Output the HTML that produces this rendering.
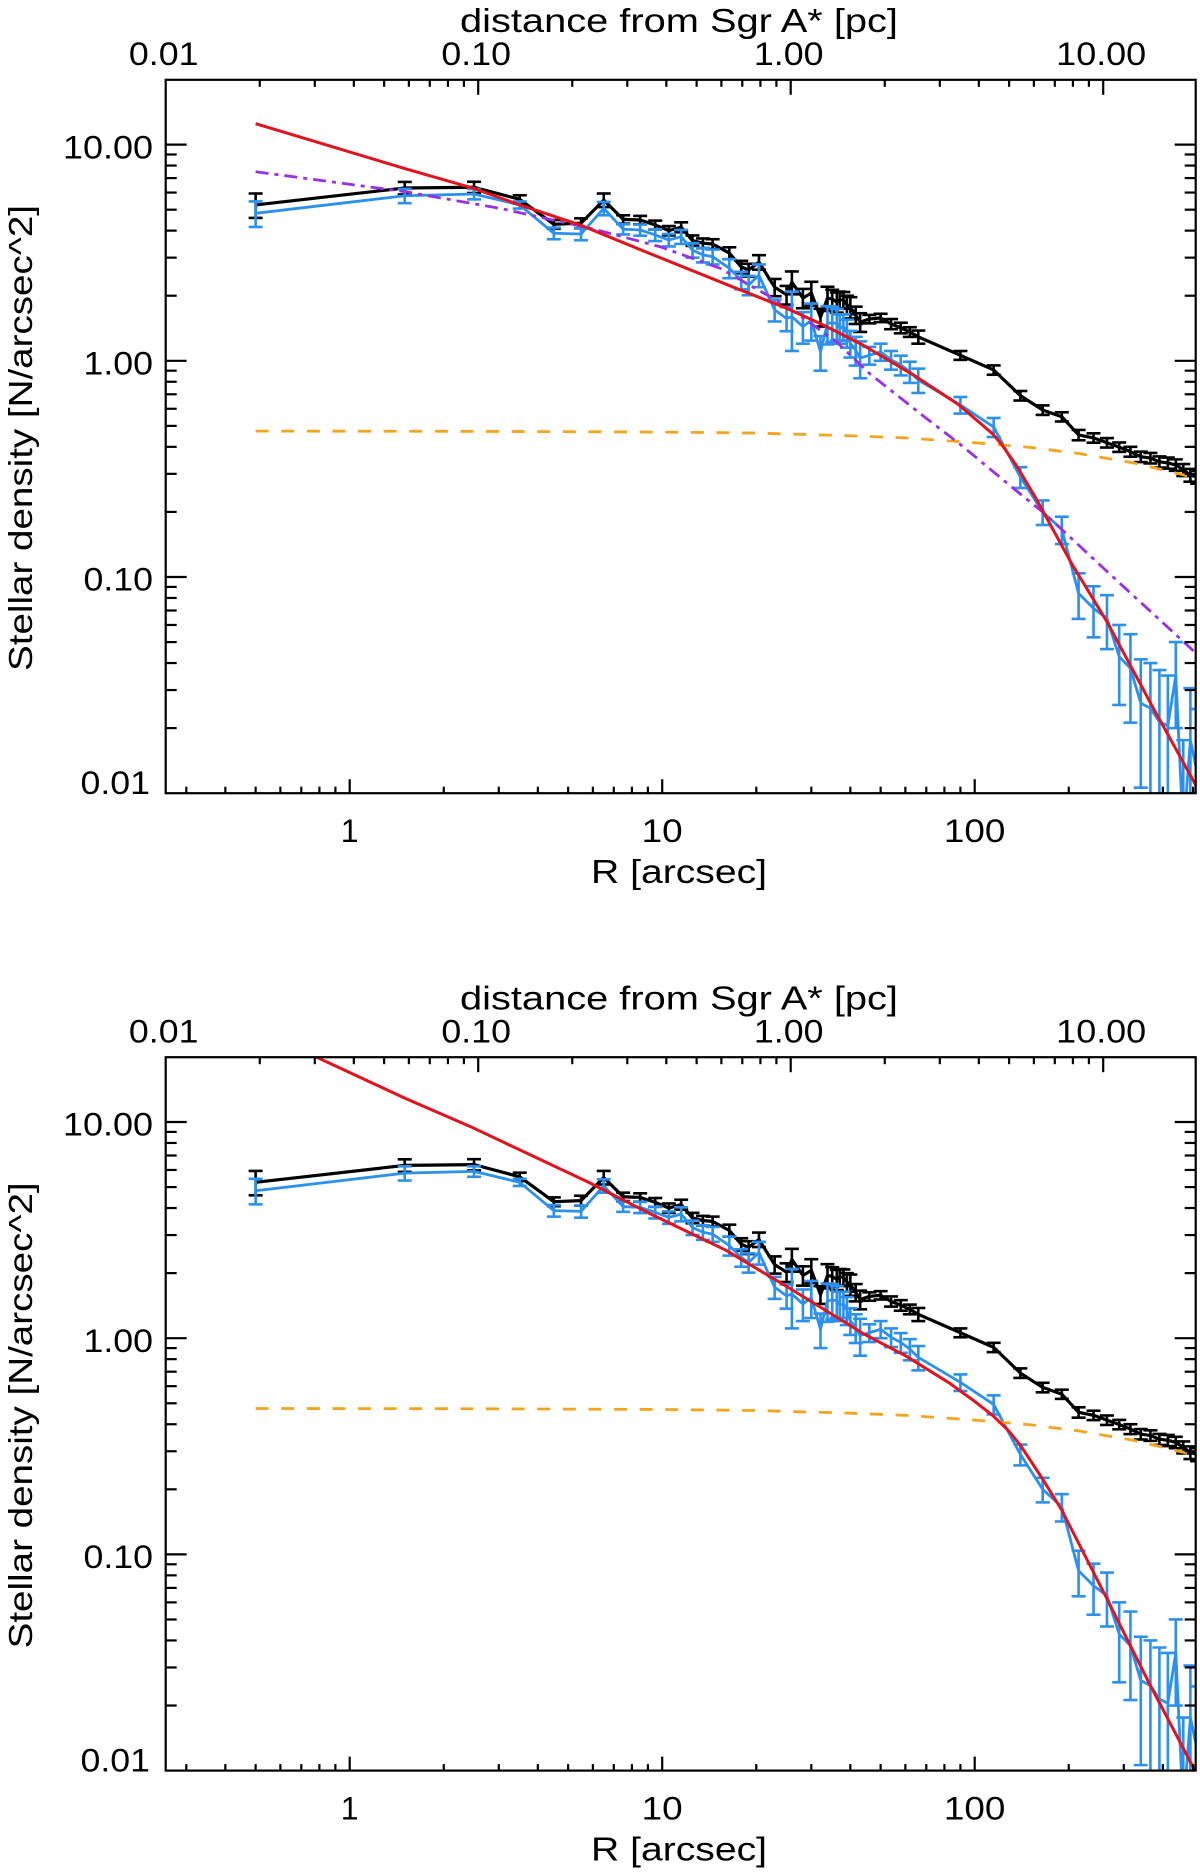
<!DOCTYPE html>
<html lang="en">
<head>
<meta charset="utf-8">
<title>Stellar density profiles</title>
<style>
html,body{margin:0;padding:0;background:#fff;overflow:hidden;}
svg{display:block;}
text{font-family:"Liberation Sans",sans-serif;fill:#000;}
</style>
</head>
<body>
<svg id="figure" xmlns="http://www.w3.org/2000/svg" width="1200" height="1874" viewBox="0 0 1200 1874">
  <rect x="0" y="0" width="1200" height="1874" fill="#fff"/>
  <g id="panel-a">
    <text x="679" y="32" font-size="33" text-anchor="middle" textLength="438" lengthAdjust="spacingAndGlyphs">distance from Sgr A* [pc]</text>
    <text x="679" y="883" font-size="33" text-anchor="middle" textLength="176" lengthAdjust="spacingAndGlyphs">R [arcsec]</text>
    <text transform="translate(32,438) rotate(-90)" font-size="33" text-anchor="middle" textLength="466" lengthAdjust="spacingAndGlyphs">Stellar density [N/arcsec^2]</text>
  </g>
  <g id="panel-b" transform="translate(0,977.4)">
    <text x="679" y="32" font-size="33" text-anchor="middle" textLength="438" lengthAdjust="spacingAndGlyphs">distance from Sgr A* [pc]</text>
    <text x="679" y="883" font-size="33" text-anchor="middle" textLength="176" lengthAdjust="spacingAndGlyphs">R [arcsec]</text>
    <text transform="translate(32,438) rotate(-90)" font-size="33" text-anchor="middle" textLength="466" lengthAdjust="spacingAndGlyphs">Stellar density [N/arcsec^2]</text>
  </g>
</svg>
<script>
// ---- tick data ----
const xTickValues = [1, 10, 100];
const xTickLabels = ['1', '10', '100'];
const yTickValues = [10, 1, 0.1, 0.01];
const yTickLabels = ['10.00', '1.00', '0.10', '0.01'];
const pcTickValues = [0.01, 0.1, 1, 10];
const pcTickLabels = ['0.01', '0.10', '1.00', '10.00'];

// ---- observed profiles: radius in arcsec ----
const radius = [0.5,1.5,2.5,3.5,4.5,5.5,6.5,7.5,8.5,
  9.5,10.5,11.5,12.5,13.5,14.5,
  16.4,17.9,18.9,20.4,
  22.9,25,26,28.2,30,32.1,33.8,35,36.2,37,38,39,40,41.6,43,
  46,50,54,58,62,66,
  90,115,140,165,190,215,240,265,290,315,340,365,390,415,440,465,490,515];
const blackDensity = [5.26,6.3,6.35,5.58,4.28,4.33,5.54,4.51,4.48,
  4.25,4.0,4.15,3.6,3.5,3.47,
  3.15,2.72,2.63,2.86,
  2.19,2.02,2.31,1.95,2.06,1.59,1.95,1.93,1.87,1.92,1.91,1.82,1.77,1.63,1.51,
  1.56,1.58,1.48,1.42,1.36,1.29,
  1.06,0.907,0.69,0.592,0.551,0.454,0.44,0.418,0.399,0.38,0.36,0.355,0.341,0.337,0.33,0.313,0.296,0.29];
const blackError = [0.68,0.42,0.38,0.25,0.2,0.23,0.4,0.2,0.2,
  0.2,0.2,0.22,0.2,0.18,0.18,
  0.2,0.18,0.18,0.22,
  0.2,0.2,0.28,0.2,0.26,0.15,0.25,0.2,0.2,0.17,0.17,0.18,0.2,0.15,0.15,
  0.07,0.07,0.08,0.08,0.07,0.09,
  0.05,0.045,0.035,0.03,0.027,0.025,0.022,0.021,0.02,0.02,0.02,0.02,0.02,0.02,0.02,0.02,0.02,0.02];
const blueDensity = [4.81,5.8,5.91,5.26,3.89,3.86,5.07,4.06,4.03,
  3.82,3.62,3.75,3.25,3.09,3.03,
  2.68,2.36,2.24,2.49,
  1.72,1.57,1.6,1.44,1.54,1.1,1.49,1.5,1.49,1.42,1.44,1.35,1.205,1.12,1.03,
  1.06,1.10,1.01,0.956,0.89,0.815,
  0.625,0.494,0.29,0.2,0.166,0.084,0.0716,0.0644,0.0428,0.0378,0.0261,0.0247,0.0214,0.0205,0.035,0.005,0.0176,0.0125];
const blueError = [0.65,0.44,0.33,0.2,0.24,0.25,0.36,0.22,0.24,
  0.24,0.24,0.28,0.25,0.24,0.24,
  0.27,0.22,0.23,0.3,
  0.2,0.2,0.49,0.24,0.3,0.2,0.3,0.28,0.25,0.22,0.2,0.2,0.17,0.17,0.2,
  0.1,0.1,0.1,0.1,0.1,0.105,
  0.055,0.05,0.032,0.026,0.024,0.02,0.019,0.018,0.0172,0.0166,0.0155,0.0153,0.0157,0.0145,0.015,0.0126,0.013,0.012];

// ---- model curves ----
const orangeR = [0.5,2,5,10,20,40,60,100,150,214,326,469,510];
const orangeDensity = [0.473,0.472,0.47,0.468,0.463,0.45,0.44,0.418,0.398,0.373,0.336,0.296,0.287];
const purpleR = [0.5,1.5,3.03,5.9,9.85,15.3,21.6,26.9,36,46,70,90,133,167,280,510];
const purpleDensity = [7.49,6.06,5.07,4.1,3.37,2.68,2.02,1.66,1.23,0.875,0.542,0.41,0.257,0.197,0.0986,0.0445];
const redTopR = [0.5,1.5,2.49,3.5,5.46,9.1,16.9,25,32.9,44,65,89,114,122,136.5,156,204,265,373,510];
const redTopDensity = [12.5,7.75,6.28,5.26,4.25,3.14,2.19,1.75,1.46,1.18,0.844,0.625,0.46,0.41,0.325,0.235,0.1157,0.0621,0.0247,0.0109];
const redBottomR = [0.5,0.78,1.5,2.48,5.8,9.1,16,25.6,44,60,83,100,114,128,140,166,190,263,362,505,510];
const redBottomDensity = [27,20,12.9,9.4,5.27,3.78,2.55,1.7,1.05,0.83,0.62,0.51,0.44,0.375,0.32,0.22,0.16,0.0637,0.0253,0.0101,0.0098];

// ---- axis functions ----
const SVGNS = 'http://www.w3.org/2000/svg';
const plotLeft = 165.7, plotRight = 1195.7, plotTop = 79.8, plotBottom = 793.2;
const xOrigin = 349.7, xDecade = 312.5;
const yOrigin = 360.8, yDecade = 216.2;
const X = r => xOrigin + xDecade * Math.log10(r);
const Y = d => yOrigin - yDecade * Math.log10(Math.max(d, 1e-3));
const XPC = p => plotLeft + xDecade * (Math.log10(p) + 2);

function add(parent, tag, attrs, name) {
  const el = document.createElementNS(SVGNS, tag);
  for (const k in attrs) el.setAttribute(k, attrs[k]);
  
  
  parent.appendChild(el);
  return el;
}
function linePoints(xs, ys) {
  return xs.map((r, i) => {
    return Math.min(X(r), plotRight + 6).toFixed(2) + ',' + Math.min(Y(ys[i]), plotBottom + 40).toFixed(2);
  }).join(' ');
}
function tickLabel(parent, x, y, str, anchor, name) {
  const el = add(parent, 'text', {x: x, y: y, 'font-size': 32, 'text-anchor': anchor}, name);
  el.textContent = str;
  if (str.length > 1) {
    const dots = (str.match(/\./g) || []).length;
    el.setAttribute('textLength', (str.length - dots) * 20.5 + dots * 8);
    el.setAttribute('lengthAdjust', 'spacingAndGlyphs');
  }
  return el;
}
function drawErrorSeries(g, xs, ys, errs, color, width, name) {
  const bars = add(g, 'g', {stroke: color, 'stroke-width': 2.6, fill: 'none'}, name + '-error-bars');
  xs.forEach((r, i) => {
    const px = X(r);
    if (px > plotRight + 2) return;
    const hi = Y(ys[i] + errs[i]);
    const rawLo = Y(ys[i] - errs[i]);
    const lo = Math.min(rawLo, plotBottom);
    add(bars, 'line', {x1: px, x2: px, y1: hi, y2: lo}, name + '-error-bar');
    add(bars, 'line', {x1: Math.max(px - 7, plotLeft), x2: Math.min(px + 7, plotRight), y1: hi, y2: hi}, name + '-error-cap-high');
    if (rawLo <= plotBottom) {
      add(bars, 'line', {x1: Math.max(px - 7, plotLeft), x2: Math.min(px + 7, plotRight), y1: lo, y2: lo}, name + '-error-cap-low');
    }
  });
  add(g, 'polyline', {points: linePoints(xs, ys), fill: 'none', stroke: color, 'stroke-width': width, 'stroke-linejoin': 'round'}, name + '-line');
}
function drawAxes(panel) {
  const ax = add(panel, 'g', {stroke: '#000', 'stroke-width': 2.2, fill: 'none'}, 'axes');
  add(ax, 'rect', {x: plotLeft, y: plotTop, width: plotRight - plotLeft, height: plotBottom - plotTop}, 'plot-frame');
  // R axis (bottom)
  for (let e = -1; e <= 2; e++) for (let m = 1; m <= 9; m++) {
    const v = m * Math.pow(10, e), px = X(v);
    if (px < plotLeft + 1 || px > plotRight - 1) continue;
    const len = m === 1 ? 14 : 6.5;
    add(ax, 'line', {x1: px, x2: px, y1: plotBottom, y2: plotBottom - len}, 'x-tick');
  }
  // distance axis (top)
  for (let e = -2; e <= 1; e++) for (let m = 1; m <= 9; m++) {
    const v = m * Math.pow(10, e), px = XPC(v);
    if (px < plotLeft + 1 || px > plotRight - 1) continue;
    const len = m === 1 ? 15 : 7;
    add(ax, 'line', {x1: px, x2: px, y1: plotTop, y2: plotTop + len}, 'top-x-tick');
  }
  // density axes (left + right)
  for (let e = -2; e <= 1; e++) for (let m = 1; m <= 9; m++) {
    const v = m * Math.pow(10, e), py = Y(v);
    if (py < plotTop + 1 || py > plotBottom - 1) continue;
    const len = m === 1 ? 21 : 11;
    add(ax, 'line', {x1: plotLeft, x2: plotLeft + len, y1: py, y2: py}, 'y-tick-left');
    add(ax, 'line', {x1: plotRight, x2: plotRight - len, y1: py, y2: py}, 'y-tick-right');
  }
  xTickValues.forEach((v, i) => tickLabel(panel, X(v), 842, xTickLabels[i], 'middle', 'x-tick-label'));
  pcTickValues.forEach((v, i) => tickLabel(panel, XPC(v) - 2, 65, pcTickLabels[i], 'middle', 'top-x-tick-label'));
  yTickValues.forEach((v, i) => {
    const base = v === 0.01 ? 794 : Y(v) + 13.7;
    tickLabel(panel, v === 0.01 ? 150 : 153, base, yTickLabels[i], 'end', 'y-tick-label');
  });
}
function drawPanel(id, clipId, redR, redD, withPurple) {
  const panel = document.getElementById(id);
  const defs = add(panel, 'defs', {}, 'plot-clip-defs');
  const cp = add(defs, 'clipPath', {id: clipId}, 'plot-clip');
  add(cp, 'rect', {x: plotLeft, y: plotTop, width: plotRight - plotLeft, height: plotBottom - plotTop}, 'plot-clip-rect');
  const g = add(panel, 'g', {'clip-path': 'url(#' + clipId + ')'}, 'plot-area');
  drawErrorSeries(g, radius, blackDensity, blackError, '#000000', 3.2, 'total-density');
  drawErrorSeries(g, radius, blueDensity, blueError, '#2b90f0', 2.8, 'subtracted-density');
  add(g, 'polyline', {points: linePoints(orangeR, orangeDensity), fill: 'none', stroke: '#f5a41e', 'stroke-width': 2.8, 'stroke-dasharray': '13 12.6'}, 'background-model-line');
  if (withPurple) {
    add(g, 'polyline', {points: linePoints(purpleR, purpleDensity), fill: 'none', stroke: '#9a30e6', 'stroke-width': 2.8, 'stroke-dasharray': '13 6 4 6'}, 'purple-model-line');
  }
  add(g, 'polyline', {points: linePoints(redR, redD), fill: 'none', stroke: '#e4121c', 'stroke-width': 3, 'stroke-linejoin': 'round'}, 'fit-model-line');
  drawAxes(panel);
}
drawPanel('panel-a', 'clip-a', redTopR, redTopDensity, true);
drawPanel('panel-b', 'clip-b', redBottomR, redBottomDensity, false);
</script>
</body>
</html>
